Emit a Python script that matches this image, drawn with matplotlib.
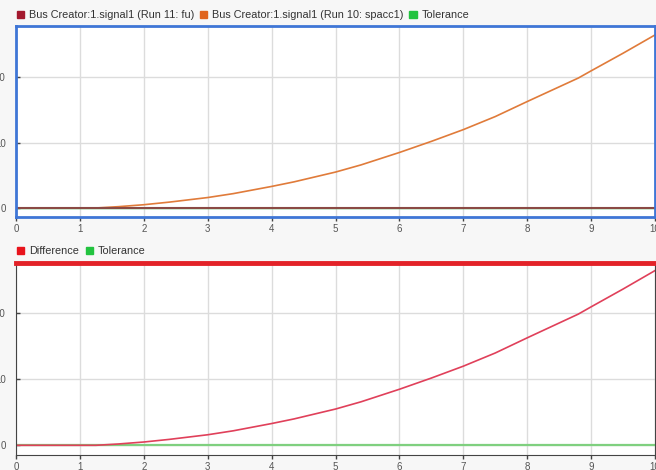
import numpy as np
import matplotlib.pyplot as plt
from matplotlib.patches import Patch

plt.rcParams['font.family'] = ['Liberation Sans', 'DejaVu Sans']

# signal samples (time, value)
t = [0, 1.25, 1.6, 2, 2.4, 3, 3.4, 4, 4.35, 5, 5.4, 6, 6.5, 7, 7.5, 8, 8.8, 9, 9.5, 10]
run10 = [0, 0, 0.2, 0.5, 0.9, 1.6, 2.2, 3.3, 4.0, 5.5, 6.6, 8.5, 10.2, 12.0, 14.0, 16.3, 19.9, 21.0, 23.7, 26.5]
run11 = [0] * len(t)
tol = [0] * len(t)
diff = list(np.array(run10) - np.array(run11))

top_labels = ['Bus Creator:1.signal1 (Run 11: fu)', 'Bus Creator:1.signal1 (Run 10: spacc1)', 'Tolerance']
bot_labels = ['Difference', 'Tolerance']
xticks = list(range(0, 11))
yticks = [0, 10, 20]

W, H = 656, 470
fig = plt.figure(figsize=(W / 100, H / 100), dpi=100, facecolor='#f7f7f7')

def box(l, t_, r, b):
    return [l / W, 1 - b / H, (r - l) / W, (b - t_) / H]

ax1 = fig.add_axes(box(16, 26, 655, 217))
ax2 = fig.add_axes(box(16, 263, 655, 455))

for ax in (ax1, ax2):
    ax.set_facecolor('white')
    ax.set_xlim(0, 10)
    ax.set_xticks(xticks)
    ax.set_yticks(yticks)
    ax.grid(True, color='#dcdcdc', lw=1)
    ax.set_axisbelow(True)
    ax.tick_params(axis='x', length=3, width=1, color='#444', labelsize=7, labelcolor='#555', pad=2)
    ax.tick_params(axis='y', length=3, direction='in', width=1, color='#444', labelsize=7, labelcolor='#555', pad=7.5)

ax1.set_ylim(-1.38, 27.87)
ax2.set_ylim(-1.47, 27.65)

# top plot: both runs
ax1.plot(t, tol, color='#2ec24a', lw=1)
ax1.plot(t, run10, color='#e07b3a', lw=1.2)
ax1.plot(t, run11, color='#8a4a44', lw=1.5)
for s in ax1.spines.values():
    s.set_color('#3f76d6')
    s.set_linewidth(2)

# bottom plot: difference vs tolerance
ax2.plot(t, tol, color='#7fd07f', lw=1.6)
ax2.plot(t, diff, color='#e0405a', lw=1.2)
ax2.spines['left'].set_color('#444')
ax2.spines['bottom'].set_color('#444')
ax2.spines['right'].set_color('#444')
ax2.spines['top'].set_color('#e32228')
ax2.spines['top'].set_linewidth(3.5)

h1 = [Patch(color=c) for c in ['#a3192e', '#e0641e', '#22c33f']]
leg1 = ax1.legend(h1, top_labels, ncol=3, loc='lower left', bbox_to_anchor=(-0.004, 1.012),
                  frameon=False, fontsize=7.8, handlelength=0.7, handleheight=0.7,
                  handletextpad=0.45, columnspacing=0.5, borderaxespad=0, borderpad=0.3)
h2 = [Patch(color=c) for c in ['#e8141c', '#22c33f']]
leg2 = ax2.legend(h2, bot_labels, ncol=2, loc='lower left', bbox_to_anchor=(-0.004, 1.018),
                  frameon=False, fontsize=7.8, handlelength=0.7, handleheight=0.7,
                  handletextpad=0.45, columnspacing=0.6, borderaxespad=0, borderpad=0.3)
for leg in (leg1, leg2):
    for txt in leg.get_texts():
        txt.set_color('#333')

fig.savefig('out.png', dpi=100, facecolor=fig.get_facecolor())
